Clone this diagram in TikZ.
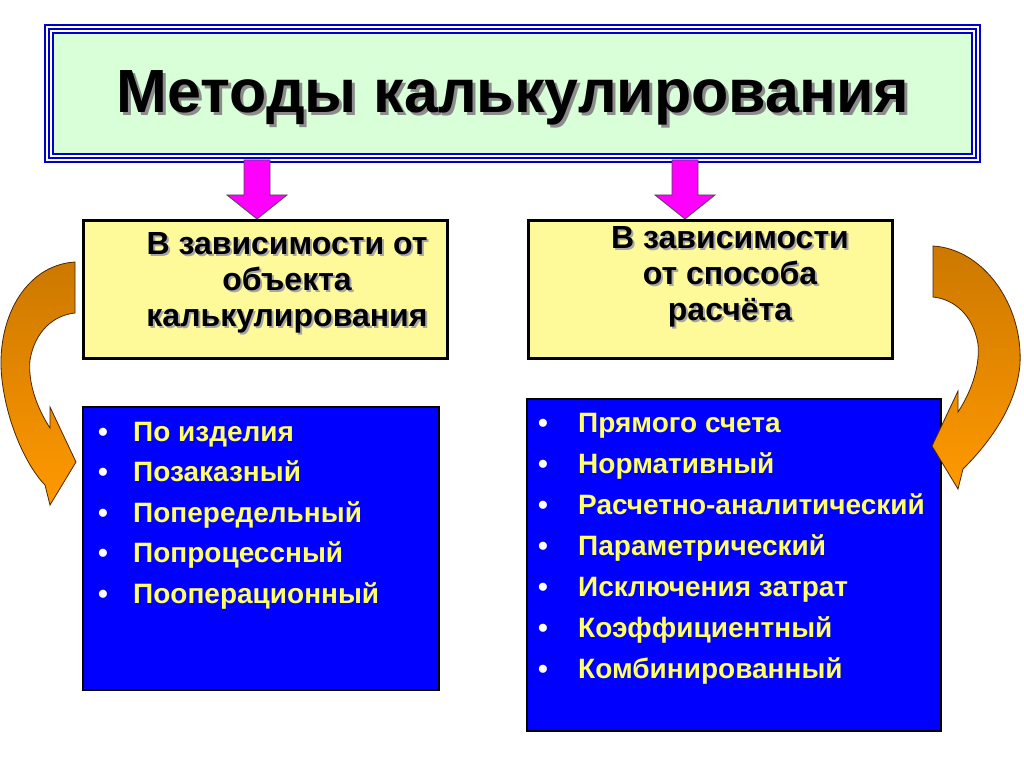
\documentclass[tikz,border=0pt]{standalone}
\usepackage{fontspec}
\setmainfont{Liberation Sans}
\definecolor{pinkc}{RGB}{255,0,255}
\definecolor{ytxt}{RGB}{255,255,102}
\definecolor{ofill}{RGB}{255,153,0}
\definecolor{odark}{RGB}{204,120,0}
\begin{document}
\begin{tikzpicture}[x=1pt,y=-1pt,
  ybox/.style={draw=black,line width=3pt,fill=yellow!40!white},
  bbox/.style={draw=black,line width=2.5pt,fill=blue},
  pinkarrow/.style={fill=pinkc,draw=black!70,line width=0.8pt},
  curved/.style={top color=odark,bottom color=ofill,draw=black!70!orange,line width=0.8pt},
  ytext/.style={font=\fontsize{32}{36}\selectfont\bfseries,align=center,text=black},
  item/.style={font=\fontsize{28}{30}\selectfont\bfseries,text=ytxt,anchor=base west,inner sep=0pt},
  bullet/.style={font=\fontsize{28}{30}\selectfont\bfseries,text=white,anchor=base,inner sep=0pt}]
\useasboundingbox[fill=white] (0,0) rectangle (1024,767);
% title box
\draw[draw=blue!80!black,line width=1.5pt,fill=white] (45,25) rectangle (980,162);
\draw[draw=blue!80!black,line width=1.5pt] (49,29) rectangle (976,158);
\draw[draw=blue!80!black,line width=1.5pt,fill=green!15!white] (53,33) rectangle (972,154);
\node[text=black!45,font=\fontsize{61}{66}\selectfont\bfseries] at (516,101) {Методы калькулирования};
\node (title) [font=\fontsize{61}{66}\selectfont\bfseries] at (513,98) {Методы калькулирования};
% pink arrows
\draw[pinkarrow] (244,160) -- (270,160) -- (270,195) -- (287,195) -- (257,219) -- (227,195) -- (244,195) -- cycle;
\draw[pinkarrow] (672,160) -- (698,160) -- (698,195) -- (715,195) -- (685,219) -- (655,195) -- (672,195) -- cycle;
% yellow boxes
\draw[ybox] (83,221) rectangle (447,358);
\draw[ybox] (528,221) rectangle (892,358);
\node[ytext,text=black!35] at (289,285) {В зависимости от\\объекта\\калькулирования};
\node (yl) [ytext] at (287,283) {В зависимости от\\объекта\\калькулирования};
\node[ytext,text=black!35] at (732,279) {В зависимости\\от способа\\расчёта};
\node (yr) [ytext] at (730,277) {В зависимости\\от способа\\расчёта};
% blue boxes
\draw[bbox] (83,407) rectangle (439,690);
\draw[bbox] (527,399) rectangle (941,731);
\foreach \t [count=\i from 0] in {По изделия,Позаказный,Попередельный,Попроцессный,Пооперационный}{
  \node[bullet] at (103,{441+40.5*\i}) {•};
  \node[item] at (133,{441+40.5*\i}) {\t};
}
\foreach \t [count=\i from 0] in {Прямого счета,Нормативный,Расчетно-аналитический,Параметрический,Исключения затрат,Коэффициентный,Комбинированный}{
  \node[bullet] at (543,{432+41*\i}) {•};
  \node[item] at (578,{432+41*\i}) {\t};
}
% curved arrows
\draw[curved] (75,262) .. controls (25,265) and (-5,320) .. (2,380) .. controls (8,430) and (30,470) .. (45,485) -- (50,505) -- (76,462) -- (50,407) -- (50,428) .. controls (35,405) and (28,380) .. (30,360) .. controls (35,330) and (55,315) .. (75,313) -- cycle;
\begin{scope}[xshift=1008pt,xscale=-1,yshift=16pt]
\draw[curved] (75,262) .. controls (25,265) and (-15,320) .. (-12,380) .. controls (-8,430) and (30,470) .. (45,485) -- (50,505) -- (76,462) -- (50,407) -- (50,428) .. controls (35,405) and (28,380) .. (30,360) .. controls (35,330) and (55,315) .. (75,313) -- cycle;
\end{scope}
\end{tikzpicture}
\end{document}
